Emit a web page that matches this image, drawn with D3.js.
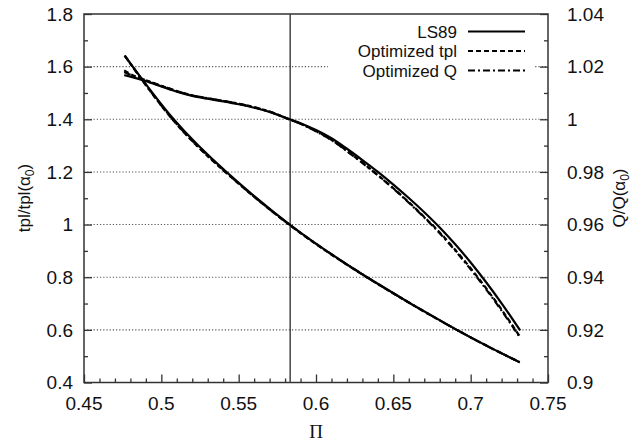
<!DOCTYPE html>
<html>
<head>
<meta charset="utf-8">
<script src="https://cdn.jsdelivr.net/npm/d3@7"></script>
<style>
  body { margin: 0; background: #fff; }
  text { font-family: "Liberation Sans", Arial, sans-serif; fill: #111; }
</style>
</head>
<body>
<div id="chart"></div>
<script>
// tpl / tpl(alpha0), left axis
var piTpl     = [0.4763, 0.508, 0.542, 0.583, 0.633, 0.691, 0.7317];
var tplLS89   = [1.642, 1.400, 1.200, 1.000, 0.800, 0.600, 0.477];
var tplOptTpl = [1.642, 1.394, 1.196, 0.998, 0.799, 0.600, 0.477];
var tplOptQ   = [1.642, 1.395, 1.197, 0.999, 0.800, 0.600, 0.477];

// Q / Q(alpha0), right axis
var piQ     = [0.476, 0.48, 0.49, 0.50, 0.51, 0.52, 0.53, 0.54, 0.55, 0.56, 0.57, 0.583, 0.59, 0.60, 0.61, 0.62, 0.63, 0.64, 0.65, 0.66, 0.67, 0.68, 0.69, 0.70, 0.71, 0.72, 0.732];
var qLS89   = [1.0168, 1.0162, 1.0145, 1.0125, 1.0105, 1.0089, 1.0078, 1.0068, 1.0057, 1.0044, 1.0028, 1.0000, 0.9985, 0.9959, 0.9928, 0.9888, 0.9845, 0.9800, 0.9752, 0.9701, 0.9647, 0.9589, 0.9525, 0.9456, 0.9381, 0.9301, 0.9198];
var qOptTpl = [1.0186, 1.0172, 1.0148, 1.0127, 1.0107, 1.0091, 1.0080, 1.0070, 1.0059, 1.0046, 1.0029, 0.9999, 0.9983, 0.9955, 0.9922, 0.9880, 0.9835, 0.9788, 0.9738, 0.9685, 0.9629, 0.9570, 0.9504, 0.9434, 0.9358, 0.9277, 0.9173];
var qOptQ   = [1.0180, 1.0169, 1.0148, 1.0127, 1.0107, 1.0091, 1.0080, 1.0070, 1.0059, 1.0046, 1.0029, 0.9999, 0.9983, 0.9954, 0.9921, 0.9879, 0.9834, 0.9787, 0.9737, 0.9683, 0.9627, 0.9567, 0.9501, 0.9430, 0.9354, 0.9273, 0.9170];

var legendLabels = ["LS89", "Optimized tpl", "Optimized Q"];
var dashes = [null, "5,3", "7,3,2,3"];
var xTicks = [0.45, 0.5, 0.55, 0.6, 0.65, 0.7, 0.75];
var yTicks = [0.4, 0.6, 0.8, 1, 1.2, 1.4, 1.6, 1.8];
var y2Ticks = [0.9, 0.92, 0.94, 0.96, 0.98, 1, 1.02, 1.04];
var piRef = 0.5833;

var width = 644, height = 446;
var margin = {top: 14, right: 96, bottom: 63.5, left: 84};

var svg = d3.select("#chart").append("svg")
    .attr("width", width)
    .attr("height", height);

var x = d3.scaleLinear().domain([0.45, 0.75]).range([margin.left, width - margin.right]);
var y = d3.scaleLinear().domain([0.4, 1.8]).range([height - margin.bottom, margin.top]);
var y2 = d3.scaleLinear().domain([0.9, 1.04]).range([height - margin.bottom, margin.top]);

// grid lines (dotted) at inner left ticks
svg.append("g").selectAll("line")
    .data(yTicks.slice(1, -1))
    .enter().append("line")
    .attr("x1", x(0.45)).attr("x2", x(0.75))
    .attr("y1", function(d) { return y(d); })
    .attr("y2", function(d) { return y(d); })
    .attr("stroke", "#555")
    .attr("stroke-width", 1.1)
    .attr("stroke-dasharray", "1.2,2");

// legend background hides grid
svg.append("rect")
    .attr("x", 328).attr("y", 22).attr("width", 206).attr("height", 58)
    .attr("fill", "#fff");

// axes with inward ticks
var xAxis = svg.append("g")
    .attr("transform", "translate(0," + y(0.4) + ")")
    .call(d3.axisBottom(x).tickValues(d3.range(0.45, 0.7501, 0.01)).tickSize(-4).tickFormat(""));
xAxis.selectAll(".tick line").filter(function(d) { return Math.abs(Math.round(d * 20) - d * 20) < 1e-6; }).attr("y2", -8);

var yAxis = svg.append("g")
    .attr("transform", "translate(" + x(0.45) + ",0)")
    .call(d3.axisLeft(y).tickValues(d3.range(0.4, 1.8001, 0.1)).tickSize(-4).tickFormat(""));
yAxis.selectAll(".tick line").filter(function(d) { return Math.abs(Math.round(d * 5) - d * 5) < 1e-6; }).attr("x2", 8);

var y2Axis = svg.append("g")
    .attr("transform", "translate(" + x(0.75) + ",0)")
    .call(d3.axisRight(y2).tickValues(d3.range(0.9, 1.04001, 0.01)).tickSize(-4).tickFormat(""));
y2Axis.selectAll(".tick line").filter(function(d) { return Math.abs(Math.round(d * 50) - d * 50) < 1e-6; }).attr("x2", -8);

svg.selectAll(".domain").remove();
svg.selectAll(".tick line").attr("stroke", "#333").attr("stroke-width", 1.3);

// tick labels
svg.append("g").selectAll("text")
    .data(xTicks).enter().append("text")
    .attr("x", function(d) { return x(d); })
    .attr("y", y(0.4) + 27)
    .attr("text-anchor", "middle")
    .style("font-size", "19px")
    .text(function(d) { return d; });

svg.append("g").selectAll("text")
    .data(yTicks).enter().append("text")
    .attr("x", x(0.45) - 11)
    .attr("y", function(d) { return y(d); })
    .attr("dy", "0.36em")
    .attr("text-anchor", "end")
    .style("font-size", "19px")
    .text(function(d) { return d; });

svg.append("g").selectAll("text")
    .data(y2Ticks).enter().append("text")
    .attr("x", x(0.75) + 19)
    .attr("y", function(d) { return y2(d); })
    .attr("dy", "0.36em")
    .attr("text-anchor", "start")
    .style("font-size", "19px")
    .text(function(d) { return d; });

// border
svg.append("rect")
    .attr("x", x(0.45)).attr("y", y(1.8))
    .attr("width", x(0.75) - x(0.45)).attr("height", y(0.4) - y(1.8))
    .attr("fill", "none").attr("stroke", "#333").attr("stroke-width", 1.5);

// reference line
svg.append("line")
    .attr("x1", x(piRef)).attr("x2", x(piRef))
    .attr("y1", y(0.4)).attr("y2", y(1.8))
    .attr("stroke", "#444").attr("stroke-width", 1.5);

// curves
var lineL = d3.line().x(function(d) { return x(d[0]); }).y(function(d) { return y(d[1]); }).curve(d3.curveNatural);
var lineR = d3.line().x(function(d) { return x(d[0]); }).y(function(d) { return y2(d[1]); }).curve(d3.curveMonotoneX);

var tplSeries = [tplLS89, tplOptTpl, tplOptQ];
var qSeries = [qLS89, qOptTpl, qOptQ];

tplSeries.forEach(function(s, i) {
    svg.append("path")
        .datum(d3.zip(piTpl, s))
        .attr("d", lineL)
        .attr("fill", "none")
        .attr("stroke", "#000")
        .attr("stroke-width", 2.2)
        .attr("stroke-dasharray", dashes[i]);
});
qSeries.forEach(function(s, i) {
    svg.append("path")
        .datum(d3.zip(piQ, s))
        .attr("d", lineR)
        .attr("fill", "none")
        .attr("stroke", "#000")
        .attr("stroke-width", 2.2)
        .attr("stroke-dasharray", dashes[i]);
});

// legend
var leg = svg.append("g");
legendLabels.forEach(function(lbl, i) {
    var ly = 31.5 + i * 19.5;
    leg.append("text")
        .attr("x", 457).attr("y", ly).attr("dy", "0.36em")
        .attr("text-anchor", "end")
        .style("font-size", "17px")
        .text(lbl);
    leg.append("line")
        .attr("x1", 468).attr("x2", 525)
        .attr("y1", ly).attr("y2", ly)
        .attr("stroke", "#000").attr("stroke-width", 2)
        .attr("stroke-dasharray", dashes[i]);
});

// axis titles
svg.append("text")
    .attr("x", 316).attr("y", 438)
    .attr("text-anchor", "middle")
    .style("font-family", "'Liberation Serif', 'DejaVu Serif', serif")
    .style("font-size", "19px")
    .text("\u03A0");

var tl = svg.append("text")
    .attr("transform", "translate(30,198) rotate(-90)")
    .attr("text-anchor", "middle")
    .style("font-size", "17px");
tl.append("tspan").text("tpl/tpl(\u03B1");
tl.append("tspan").attr("dy", 4).style("font-size", "12px").text("0");
tl.append("tspan").attr("dy", -4).text(")");

var tr = svg.append("text")
    .attr("transform", "translate(625,198) rotate(-90)")
    .attr("text-anchor", "middle")
    .style("font-size", "17px");
tr.append("tspan").text("Q/Q(\u03B1");
tr.append("tspan").attr("dy", 4).style("font-size", "12px").text("0");
tr.append("tspan").attr("dy", -4).text(")");
</script>
</body>
</html>
